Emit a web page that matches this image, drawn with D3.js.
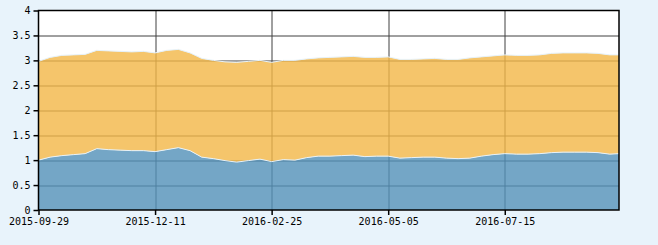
<!DOCTYPE html>
<html>
<head>
<meta charset="utf-8">
<script src="https://cdn.jsdelivr.net/npm/d3@7"></script>
<style>
  body { margin: 0; background: #e8f3fb; }
  #chart text { font-family: "DejaVu Sans Mono", monospace; font-size: 10px; fill: #000; }
</style>
</head>
<body>
<div id="chart"></div>
<script>
// trading-day index of each sample, tick labels
var dayIdx = [0,5,10,15,20,25,30,35,40,45,50,55,60,65,70,75,80,85,90,95,100,105,110,115,120,
  125,130,135,140,145,150,155,160,165,170,175,180,185,190,195,200,205,210,215,220,225,230,235,240,245,249];
var blueVals = [1.00,1.06,1.09,1.11,1.13,1.23,1.21,1.20,1.19,1.19,1.17,1.21,1.25,1.19,1.06,1.03,0.99,0.96,0.99,1.02,0.97,
  1.01,1.00,1.05,1.08,1.08,1.09,1.10,1.07,1.08,1.08,1.04,1.05,1.06,1.06,1.04,1.03,1.04,1.08,1.11,1.13,
  1.12,1.12,1.13,1.15,1.16,1.16,1.16,1.15,1.12,1.13];
var orangeVals = [1.98,2.00,2.01,2.00,1.99,1.97,1.98,1.98,1.98,1.99,1.98,1.99,1.97,1.96,1.98,1.97,1.98,2.00,1.99,1.98,1.99,
  1.99,2.00,1.98,1.97,1.98,1.98,1.98,1.99,1.98,1.99,1.98,1.97,1.97,1.98,1.98,1.99,2.01,1.99,1.98,1.98,
  1.98,1.98,1.98,1.99,1.99,1.99,1.99,1.99,1.99,1.98];
var tickIdx = [0, 50, 100, 150, 200];
var tickLabels = ['2015-09-29', '2015-12-11', '2016-02-25', '2016-05-05', '2016-07-15'];
var yTicks = [0, 0.5, 1, 1.5, 2, 2.5, 3, 3.5, 4];

var margin = { top: 10.5, right: 39, bottom: 35, left: 38.5 };
var width = 658 - margin.left - margin.right,
    height = 245 - margin.top - margin.bottom;

var svg = d3.select('#chart').append('svg')
  .attr('width', 658)
  .attr('height', 245);

var g = svg.append('g')
  .attr('transform', 'translate(' + margin.left + ',' + margin.top + ')');

var x = d3.scaleLinear().domain([0, 249]).range([0, width]);
var y = d3.scaleLinear().domain([0, 4]).range([height, 0]);

var rows = dayIdx.map(function(d, i) {
  return { i: d, blue: blueVals[i], orange: orangeVals[i] };
});
var stacked = d3.stack().keys(['blue', 'orange'])(rows);

g.append('rect')
  .attr('width', width).attr('height', height)
  .attr('fill', '#fff');

// grid (under the semi transparent areas)
g.append('g').selectAll('line')
  .data(yTicks.slice(1, -1))
  .enter().append('line')
  .attr('x1', 0).attr('x2', width)
  .attr('y1', function(d) { return Math.round(y(d)) + 0.5; })
  .attr('y2', function(d) { return Math.round(y(d)) + 0.5; })
  .attr('stroke', '#404040');
g.append('g').selectAll('line')
  .data(tickIdx.slice(1))
  .enter().append('line')
  .attr('x1', function(d) { return Math.round(x(d)) + 0.5; })
  .attr('x2', function(d) { return Math.round(x(d)) + 0.5; })
  .attr('y1', 0).attr('y2', height)
  .attr('stroke', '#404040');

var colors = ['#5190b8', '#f2b646'];

var area = d3.area()
  .x(function(d) { return x(d.data.i); })
  .y0(function(d) { return y(d[0]); })
  .y1(function(d) { return y(d[1]); });

var line = d3.line()
  .x(function(d) { return x(d.data.i); })
  .y(function(d) { return y(d[1]); });

g.selectAll('.layer')
  .data(stacked)
  .enter().append('path')
  .attr('class', 'layer')
  .attr('d', area)
  .attr('fill', function(d, i) { return colors[i]; })
  .attr('fill-opacity', 0.8);

g.selectAll('.edge')
  .data(stacked)
  .enter().append('path')
  .attr('class', 'edge')
  .attr('d', line)
  .attr('fill', 'none')
  .attr('stroke', '#e6f2fa')
  .attr('stroke-width', 1);

// frame
g.append('rect')
  .attr('width', width).attr('height', height)
  .attr('fill', 'none')
  .attr('stroke', '#000')
  .attr('stroke-width', 1.5);

var yAxis = d3.axisLeft(y)
  .tickValues(yTicks)
  .tickSize(5)
  .tickPadding(3)
  .tickFormat(function(d) { return String(d); });
var yg = g.append('g').call(yAxis);

var xAxis = d3.axisBottom(x)
  .tickValues(tickIdx)
  .tickSize(5)
  .tickPadding(3)
  .tickFormat(function(d, i) { return tickLabels[i]; });
var xg = g.append('g')
  .attr('transform', 'translate(0,' + height + ')')
  .call(xAxis);

[yg, xg].forEach(function(a) {
  a.select('.domain').remove();
  a.selectAll('.tick line').attr('stroke', '#000').attr('stroke-width', 1.5);
});
</script>
</body>
</html>
